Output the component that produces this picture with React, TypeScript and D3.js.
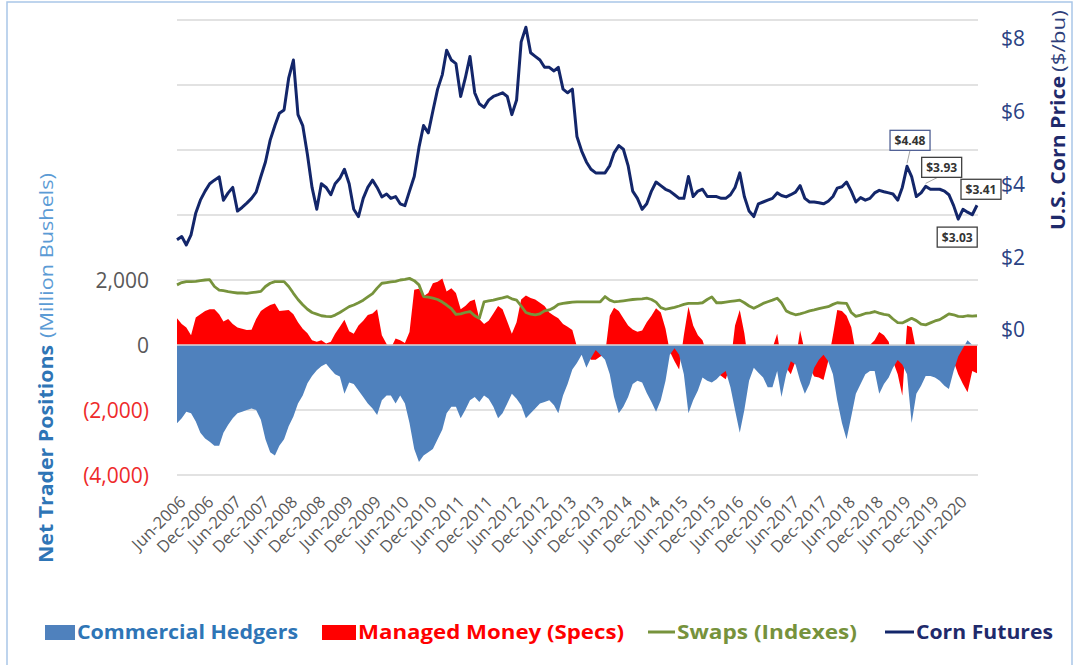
import React from "react";
import * as d3 from "d3";

// ---------- DATA (monthly, starting May 2006) ----------
const START_MONTH = "2006-05";

// U.S. corn futures price ($/bu)
const cornPrice: number[] = [
  // 2006 May-Dec
  2.46, 2.55, 2.32, 2.6, 3.2, 3.55, 3.8, 4.0,
  // 2007
  4.1, 4.19, 3.55, 3.75, 3.9, 3.25, 3.35, 3.47, 3.6, 3.77, 4.2, 4.6,
  // 2008
  5.2, 5.6, 5.94, 6.03, 6.9, 7.4, 5.9, 5.6, 4.8, 3.9, 3.3, 4.0,
  // 2009
  3.9, 3.7, 4.0, 4.15, 4.4, 4.0, 3.3, 3.1, 3.6, 3.9, 4.1, 3.9,
  // 2010
  3.64, 3.72, 3.6, 3.65, 3.45, 3.4, 3.8, 4.2, 5.0, 5.6, 5.4, 6.0,
  // 2011
  6.6, 7.0, 7.67, 7.4, 7.3, 6.4, 6.9, 7.5, 6.5, 6.2, 6.1, 6.3,
  // 2012
  6.4, 6.45, 6.5, 6.4, 5.9, 6.3, 7.9, 8.3, 7.6, 7.5, 7.4, 7.2,
  // 2013
  7.2, 7.1, 7.2, 6.6, 6.5, 6.6, 5.3, 4.9, 4.6, 4.4, 4.3, 4.3,
  // 2014
  4.3, 4.5, 4.85, 5.05, 4.95, 4.5, 3.8, 3.6, 3.3, 3.45, 3.8, 4.05,
  // 2015
  3.95, 3.85, 3.8, 3.7, 3.6, 3.6, 4.2, 3.65, 3.8, 3.85, 3.65, 3.65,
  // 2016
  3.65, 3.6, 3.6, 3.7, 3.9, 4.3, 3.65, 3.25, 3.1, 3.45, 3.5, 3.55,
  // 2017
  3.6, 3.75, 3.68, 3.64, 3.7, 3.77, 3.95, 3.6, 3.5, 3.5, 3.48, 3.45,
  // 2018
  3.52, 3.65, 3.88, 3.92, 4.05, 3.8, 3.5, 3.62, 3.55, 3.6, 3.75, 3.82,
  // 2019
  3.78, 3.75, 3.72, 3.55, 3.9, 4.48, 4.2, 3.65, 3.75, 3.93, 3.85, 3.85,
  // 2020 Jan-Sep
  3.85, 3.8, 3.7, 3.4, 3.03, 3.3, 3.22, 3.15, 3.41,
];

// Net positions, million bushels
const commercialHedgers: number[] = [
  -2410, -2250, -2050, -2100, -2350, -2700, -2880, -2980,
  -3100, -3100, -2700, -2450, -2250, -2100, -2050, -2000, -1950, -2000, -2300, -2900,
  -3300, -3400, -3100, -2900, -2500, -2200, -1800, -1550, -1180, -950, -780, -650,
  -580, -750, -900, -970, -1500, -1150, -1200, -1400, -1600, -1800, -1950, -2150,
  -1700, -1550, -1550, -1800, -1550, -1800, -2400, -3200, -3600, -3400, -3300, -3200,
  -2900, -2600, -2100, -1900, -1900, -2250, -2000, -1700, -1600, -1750, -1550, -1650,
  -1900, -2250, -2100, -1800, -1500, -1650, -1850, -2250, -2100, -1950, -1800, -1750,
  -1700, -1850, -2100, -1550, -1200, -750, -550, -300, -700, -400, -150, -300,
  -450, -900, -1600, -2100, -1900, -1600, -1200, -1100, -1150, -1480, -1750, -2050,
  -1700, -1100, -300, -100, -300, -900, -2100, -1700, -1400, -1000, -1100, -1150,
  -1050, -900, -800, -1300, -2000, -2700, -2000, -1100, -700, -850, -1000, -1300,
  -1300, -800, -1600, -900, -500, -600, -1100, -1500, -1200, -700, -450, -300,
  -500, -900, -1700, -2400, -2900, -2200, -1500, -1200, -900, -800, -800, -1500,
  -1200, -1000, -700, -460, -600, -900, -2400, -1500, -1250, -950, -950, -1000,
  -1100, -1250, -1350, -800, -350, -100, 150, 0, 0,
];

const managedMoney: number[] = [
  820, 650, 540, 300, 850, 950, 1050, 1100,
  1100, 950, 720, 800, 650, 540, 500, 460, 470, 800, 1050, 1150,
  1230, 1280, 1050, 1060, 1080, 950, 700, 500, 360, 150, 100, 150,
  50, 100, 350, 560, 780, 420, 350, 600, 750, 920, 970, 1100,
  300, 30, -100, 200, 150, 60, 400, 1700, 1730, 1500, 1600, 1900,
  1950, 2050, 1650, 1750, 1600, 1100, 1200, 1350, 1400, 800, 650, 750,
  970, 1200, 1100, 720, 350, 700, 1400, 1520, 1450, 1400, 1300, 1200,
  1000, 900, 820, 650, 560, 460, -50, -200, -300, -450, -450, -350,
  -300, 900, 1150, 1050, 820, 600, 480, 410, 450, 700, 900, 1130,
  1000, 500, -200, -500, -750, 300, 1180, 600, 300, 150, -300, -550,
  -850, -950, -1050, -600, 600, 1080, 360, -700, -650, -400, -300, -150,
  -100, 350, -500, -700, -900, -500, 450, -200, -700, -970, -1000, -1080,
  -500, 300, 1080, 1050, 900, 550, -250, -450, -300, 0, 150, 400,
  300, 100, -500, -900, -1550, 600, 550, -200, -450, -400, -350, -300,
  -260, -300, -400, -500, -900, -1200, -1450, -800, -870,
];

const swapsIndexes: number[] = [
  1850, 1920, 1950, 1950, 1960, 1980, 2000, 2010,
  1800, 1690, 1670, 1640, 1620, 1600, 1600, 1590, 1610, 1630, 1650, 1800,
  1900, 1950, 1950, 1950, 1800, 1590, 1400, 1240, 1100, 1000, 950, 900,
  880, 870, 920, 1000, 1090, 1180, 1230, 1300, 1380, 1480, 1580, 1750,
  1900, 1920, 1940, 1960, 2000, 2020, 2050, 1980, 1850, 1490, 1470, 1440,
  1400, 1320, 1230, 1120, 940, 960, 1000, 1030, 900, 820, 1330, 1360,
  1380, 1420, 1450, 1490, 1420, 1380, 1200, 1000, 950, 930, 960, 1050,
  1080, 1150, 1250, 1280, 1300, 1320, 1330, 1330, 1330, 1330, 1330, 1330,
  1490, 1380, 1330, 1340, 1360, 1380, 1400, 1410, 1420, 1440, 1400, 1320,
  1150, 1100, 1130, 1160, 1200, 1250, 1280, 1280, 1280, 1300, 1400, 1480,
  1300, 1300, 1320, 1340, 1360, 1380, 1300, 1200, 1130, 1200, 1280, 1330,
  1380, 1440, 1300, 1050, 980, 930, 960, 1000, 1050, 1080, 1120, 1150,
  1180, 1250, 1300, 1290, 1280, 1000, 880, 920, 970, 990, 1030, 980,
  940, 920, 800, 690, 680, 750, 820, 750, 640, 620, 680, 740,
  780, 870, 960, 930, 880, 870, 900, 890, 900,
];

const positionTicks: number[] = [-4000, -2000, 0, 2000];
const gridTicks: number[] = [-4000, -2000, 0, 2000, 4000, 6000, 8000, 10000];
const priceTicks: number[] = [0, 2, 4, 6, 8];
const xTickMonths: string[] = [
  "2006-06", "2006-12", "2007-06", "2007-12", "2008-06", "2008-12",
  "2009-06", "2009-12", "2010-06", "2010-12", "2011-06", "2011-12",
  "2012-06", "2012-12", "2013-06", "2013-12", "2014-06", "2014-12",
  "2015-06", "2015-12", "2016-06", "2016-12", "2017-06", "2017-12",
  "2018-06", "2018-12", "2019-06", "2019-12", "2020-06",
];
const calloutMonths: string[] = ["2019-06", "2019-10", "2020-05", "2020-09"];

const legendItems = [
  { label: "Commercial Hedgers", kind: "box" },
  { label: "Managed Money (Specs)", kind: "box" },
  { label: "Swaps (Indexes)", kind: "line" },
  { label: "Corn Futures", kind: "line" },
];

// ---------- STYLE ----------
const C = {
  blue: "#4f81bd",
  red: "#ff0000",
  green: "#77933c",
  navy: "#13266a",
  grid: "#d9d9d9",
  tick: "#595959",
  negTick: "#ee2a2a",
  priceTick: "#2a4283",
};
const FONT = "'Open Sans', 'Liberation Sans', sans-serif";

export default function App() {
  const W = 1075;
  const H = 665;
  const parseMonth = d3.timeParse("%Y-%m");
  const start = parseMonth(START_MONTH) as Date;
  const months = cornPrice.map((_, i) => d3.timeMonth.offset(start, i));

  const x = d3
    .scaleTime()
    .domain([start, months[months.length - 1]])
    .range([177, 977]);
  const yL = d3.scaleLinear().domain([-4000, 10000]).range([475, 20]);
  const yR = d3.scaleLinear().domain([-4, 8.5]).range([475, 20]);

  const areaGen = d3
    .area<number>()
    .x((_, i) => x(months[i]))
    .y0(yL(0))
    .y1((d) => yL(d));
  const lineL = d3
    .line<number>()
    .x((_, i) => x(months[i]))
    .y((d) => yL(d));
  const lineR = d3
    .line<number>()
    .x((_, i) => x(months[i]))
    .y((d) => yR(d));

  const fmtPos = (v: number) =>
    v < 0 ? `(${d3.format(",")(-v)})` : d3.format(",")(v);
  const fmtMonth = d3.timeFormat("%b-%Y");

  // callout box placements (relative to point)
  const calloutStyle = [
    { dx: 3, dy: -26, border: "#4f5f94", leader: true },
    { dx: 16, dy: -19, border: "#404040", leader: true },
    { dx: -1, dy: 18, border: "#404040", leader: false },
    { dx: 4, dy: -16, border: "#404040", leader: false },
  ];

  const legendLayout = [
    { sx: 45, tx: 77, tw: 221, color: C.blue, text: "#2e75b6" },
    { sx: 322, tx: 358, tw: 266, color: C.red, text: "#ff0000" },
    { sx: 648, tx: 677, tw: 180, color: C.green, text: "#76923c" },
    { sx: 885, tx: 916, tw: 137, color: C.navy, text: "#1f2a6b" },
  ];

  return (
    <div style={{ position: "absolute", left: 0, top: 0 }}>
      <svg width={W} height={H} style={{ display: "block", background: "#fff" }}>
        <rect x={7} y={2} width={1065} height={680} fill="none" stroke="#a9c6e8" strokeWidth={1.5} />

        {/* gridlines */}
        {gridTicks.map((t) => (
          <line key={t} x1={177} x2={978} y1={yL(t)} y2={yL(t)} stroke={C.grid} strokeWidth={1.5} />
        ))}

        {/* areas */}
        <path d={areaGen(managedMoney) || ""} fill={C.red} />
        <path d={areaGen(commercialHedgers) || ""} fill={C.blue} />
        <line x1={177} x2={978} y1={yL(0)} y2={yL(0)} stroke={C.grid} strokeWidth={1.5} />

        {/* lines */}
        <path d={lineL(swapsIndexes) || ""} fill="none" stroke={C.green} strokeWidth={2.8} strokeLinejoin="round" />
        <path d={lineR(cornPrice) || ""} fill="none" stroke={C.navy} strokeWidth={3} strokeLinejoin="round" />

        {/* callouts */}
        {calloutMonths.map((m, k) => {
          const i = months.findIndex((d) => +d === +(parseMonth(m) as Date));
          const px = x(months[i]);
          const py = yR(cornPrice[i]);
          const s = calloutStyle[k];
          const bx = px + s.dx;
          const by = py + s.dy;
          return (
            <g key={m}>
              {s.leader && (
                <line x1={px} y1={py - 3} x2={k === 0 ? bx : bx - 4} y2={by + 10} stroke="#a6a6a6" strokeWidth={1} />
              )}
              <rect x={bx - 20} y={by - 10} width={40} height={20} fill="#fff" stroke={s.border} strokeWidth={1.3} />
              <text x={bx} y={by} textAnchor="middle" dominantBaseline="central" fontFamily={FONT} fontSize={12} fontWeight={700} fill="#333">
                {"$" + cornPrice[i].toFixed(2)}
              </text>
            </g>
          );
        })}

        {/* left ticks */}
        {positionTicks.map((t) => (
          <text key={t} x={149} y={yL(t)} textAnchor="end" dominantBaseline="central" fontFamily={FONT} fontSize={21} fill={t < 0 ? C.negTick : C.tick}>
            {fmtPos(t)}
          </text>
        ))}

        {/* right ticks */}
        {priceTicks.map((t) => (
          <text key={t} x={1001} y={yR(t)} textAnchor="start" dominantBaseline="central" fontFamily={FONT} fontSize={21} fill={C.priceTick}>
            {"$" + t}
          </text>
        ))}

        {/* x tick labels */}
        {xTickMonths.map((m) => {
          const d = parseMonth(m) as Date;
          const tx = x(d) + 5;
          const ty = 503;
          return (
            <text key={m} x={tx} y={ty} textAnchor="end" transform={`rotate(-45 ${tx} ${ty})`} fontFamily={FONT} fontSize={16.5} fill={C.tick}>
              {fmtMonth(d)}
            </text>
          );
        })}

        {/* axis titles */}
        <text x={53} y={563} transform="rotate(-90 53 563)" fontFamily={FONT} fontSize={19} fontWeight={700} fill="#2e75b6" textLength={218} lengthAdjust="spacingAndGlyphs">
          Net Trader Positions
        </text>
        <text x={53} y={338} transform="rotate(-90 53 338)" fontFamily={FONT} fontSize={19} fill="#5b9bd5" textLength={165} lengthAdjust="spacingAndGlyphs">
          (Million Bushels)
        </text>
        <text x={1065} y={230} transform="rotate(-90 1065 230)" fontFamily={FONT} fontSize={19} fontWeight={700} fill="#1f2a6b" textLength={154} lengthAdjust="spacingAndGlyphs">
          U.S. Corn Price
        </text>
        <text x={1065} y={72} transform="rotate(-90 1065 72)" fontFamily={FONT} fontSize={19} fill="#2f3f7a" textLength={62} lengthAdjust="spacingAndGlyphs">
          ($/bu)
        </text>

        {/* legend */}
        {legendItems.map((it, k) => {
          const L = legendLayout[k];
          return (
            <g key={it.label}>
              {it.kind === "box" ? (
                <rect x={L.sx} y={625} width={L.tx - L.sx - 2} height={15} fill={L.color} />
              ) : (
                <line x1={L.sx} x2={L.tx - 2} y1={632} y2={632} stroke={L.color} strokeWidth={3} />
              )}
              <text x={L.tx} y={639} fontFamily={FONT} fontSize={19} fontWeight={700} fill={L.text} textLength={L.tw} lengthAdjust="spacingAndGlyphs">
                {it.label}
              </text>
            </g>
          );
        })}
      </svg>
    </div>
  );
}
